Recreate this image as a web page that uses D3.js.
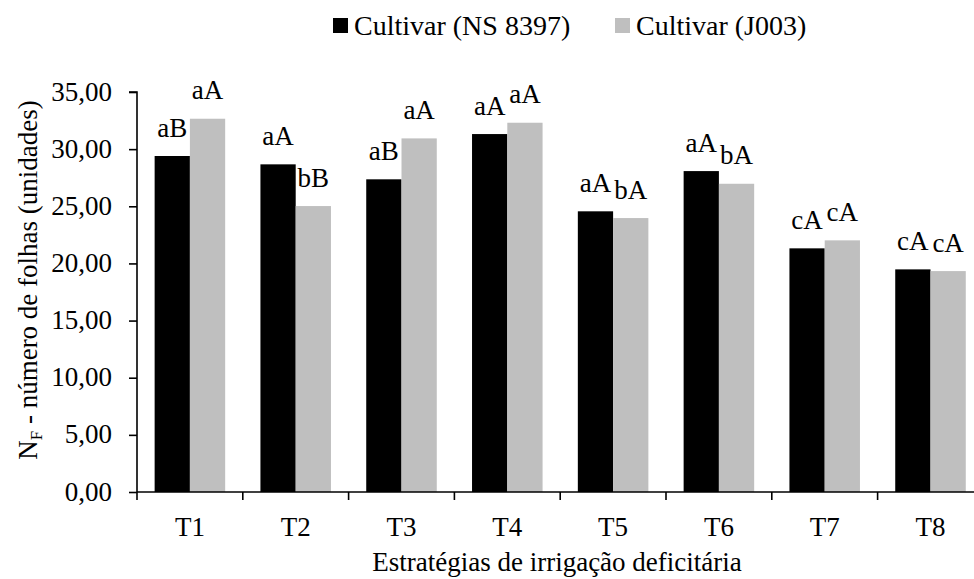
<!DOCTYPE html>
<html lang="pt-BR"><head><meta charset="utf-8"><script src="https://cdn.jsdelivr.net/npm/d3@7"></script></head>
<body style="margin:0">
<script>
const categories = ["T1", "T2", "T3", "T4", "T5", "T6", "T7", "T8"];
const seriesNames = ["Cultivar (NS 8397)", "Cultivar (J003)"];
const valuesNS8397 = [29.40, 28.67, 27.36, 31.32, 24.56, 28.08, 21.32, 19.48];
const valuesJ003 = [32.66, 25.02, 30.94, 32.31, 23.97, 26.97, 22.02, 19.33];
const lettersNS8397 = ["aB", "aA", "aB", "aA", "aA", "aA", "cA", "cA"];
const lettersJ003 = ["aA", "bB", "aA", "aA", "bA", "bA", "cA", "cA"];
const yTickValues = [0, 5, 10, 15, 20, 25, 30, 35];
const yTitleMain = "N";
const yTitleSub = "F";
const yTitleRest = " - número de folhas (unidades)";
const xTitle = "Estratégias de irrigação deficitária";

const W = 974, H = 579;
const FONT = "Liberation Serif";
const colors = ["#000000", "#bfbfbf"];
const series = [
  { name: seriesNames[0], values: valuesNS8397, letters: lettersNS8397, color: colors[0] },
  { name: seriesNames[1], values: valuesJ003, letters: lettersJ003, color: colors[1] }
];

const svg = d3.select("body").append("svg").attr("width", W).attr("height", H)
  .attr("font-family", FONT);

const x0 = 137, yBase = 492, yTop = 92, band = 105.8;
const x = d3.scaleBand().domain(categories).range([x0, x0 + band * categories.length]).padding(0);
const y = d3.scaleLinear().domain([0, 35]).range([yBase, yTop]);
const barW = x.bandwidth() / 3;

series.forEach((s, si) => {
  svg.append("g").selectAll("rect").data(categories).join("rect")
    .attr("x", c => x(c) + x.bandwidth() / 2 - barW + si * barW)
    .attr("y", (c, i) => y(s.values[i]))
    .attr("width", barW)
    .attr("height", (c, i) => yBase - y(s.values[i]))
    .attr("fill", s.color);
});

// axes lines drawn with d3 axis generators (text handled separately)
const yAxis = svg.append("g").attr("transform", `translate(${x0},0)`)
  .call(d3.axisLeft(y).tickValues(yTickValues).tickSize(8).tickFormat(""));
yAxis.attr("font-family", FONT);
yAxis.select(".domain").attr("stroke-width", 1.6).attr("d", `M-8,${yTop}H0V${yBase + 8}`);
yAxis.selectAll(".tick line").attr("stroke-width", 1.6);
yAxis.selectAll(".tick text").remove();

const xAxis = svg.append("g").attr("transform", `translate(0,${yBase})`)
  .call(d3.axisBottom(x).tickSize(0).tickFormat(""));
xAxis.attr("font-family", FONT);
xAxis.select(".domain").attr("stroke-width", 1.6).attr("d", `M${x0},0H${W}`);
xAxis.selectAll(".tick text").remove();
xAxis.selectAll("line.sep").data(categories.slice(1)).join("line")
  .attr("class", "sep")
  .attr("x1", c => x(c)).attr("x2", c => x(c))
  .attr("y1", 0).attr("y2", 8)
  .attr("stroke", "#000").attr("stroke-width", 1.6);

function addText(xp, yp, str, size, anchor) {
  return svg.append("text").attr("x", xp).attr("y", yp)
    .attr("font-size", size).attr("font-family", FONT)
    .style("font-family", "Liberation Serif, Tinos, Times New Roman, serif")
    .attr("text-anchor", anchor || "start").text(str);
}

series.forEach((s, si) => {
  categories.forEach((c, i) => {
    addText(x(c) + x.bandwidth() / 2 - barW / 2 + si * barW, y(s.values[i]) - 19.5, s.letters[i], 27, "middle");
  });
});

yTickValues.forEach(v => {
  addText(x0 - 25, y(v), v.toFixed(2).replace(".", ","), 27, "end").attr("dy", "0.32em");
});

categories.forEach(c => {
  addText(x(c) + x.bandwidth() / 2, yBase + 44, c, 27, "middle");
});

addText(557, 571, xTitle, 27, "middle");

const yt = svg.append("text")
  .attr("transform", `translate(37,${(yTop + yBase) / 2 - 12}) rotate(-90)`)
  .attr("text-anchor", "middle")
  .attr("font-size", 27)
  .attr("font-family", FONT)
  .style("font-family", "Liberation Serif, Tinos, Times New Roman, serif");
yt.append("tspan").text(yTitleMain);
yt.append("tspan").attr("font-size", 17).attr("dy", 5).text(yTitleSub);
yt.append("tspan").attr("dy", -5).text(yTitleRest);

const legendX = [333, 615];
series.forEach((s, si) => {
  svg.append("rect").attr("x", legendX[si]).attr("y", 18).attr("width", 15).attr("height", 15).attr("fill", s.color);
  addText(legendX[si] + 21, 35, s.name, 28, "start");
});
</script></body></html>
